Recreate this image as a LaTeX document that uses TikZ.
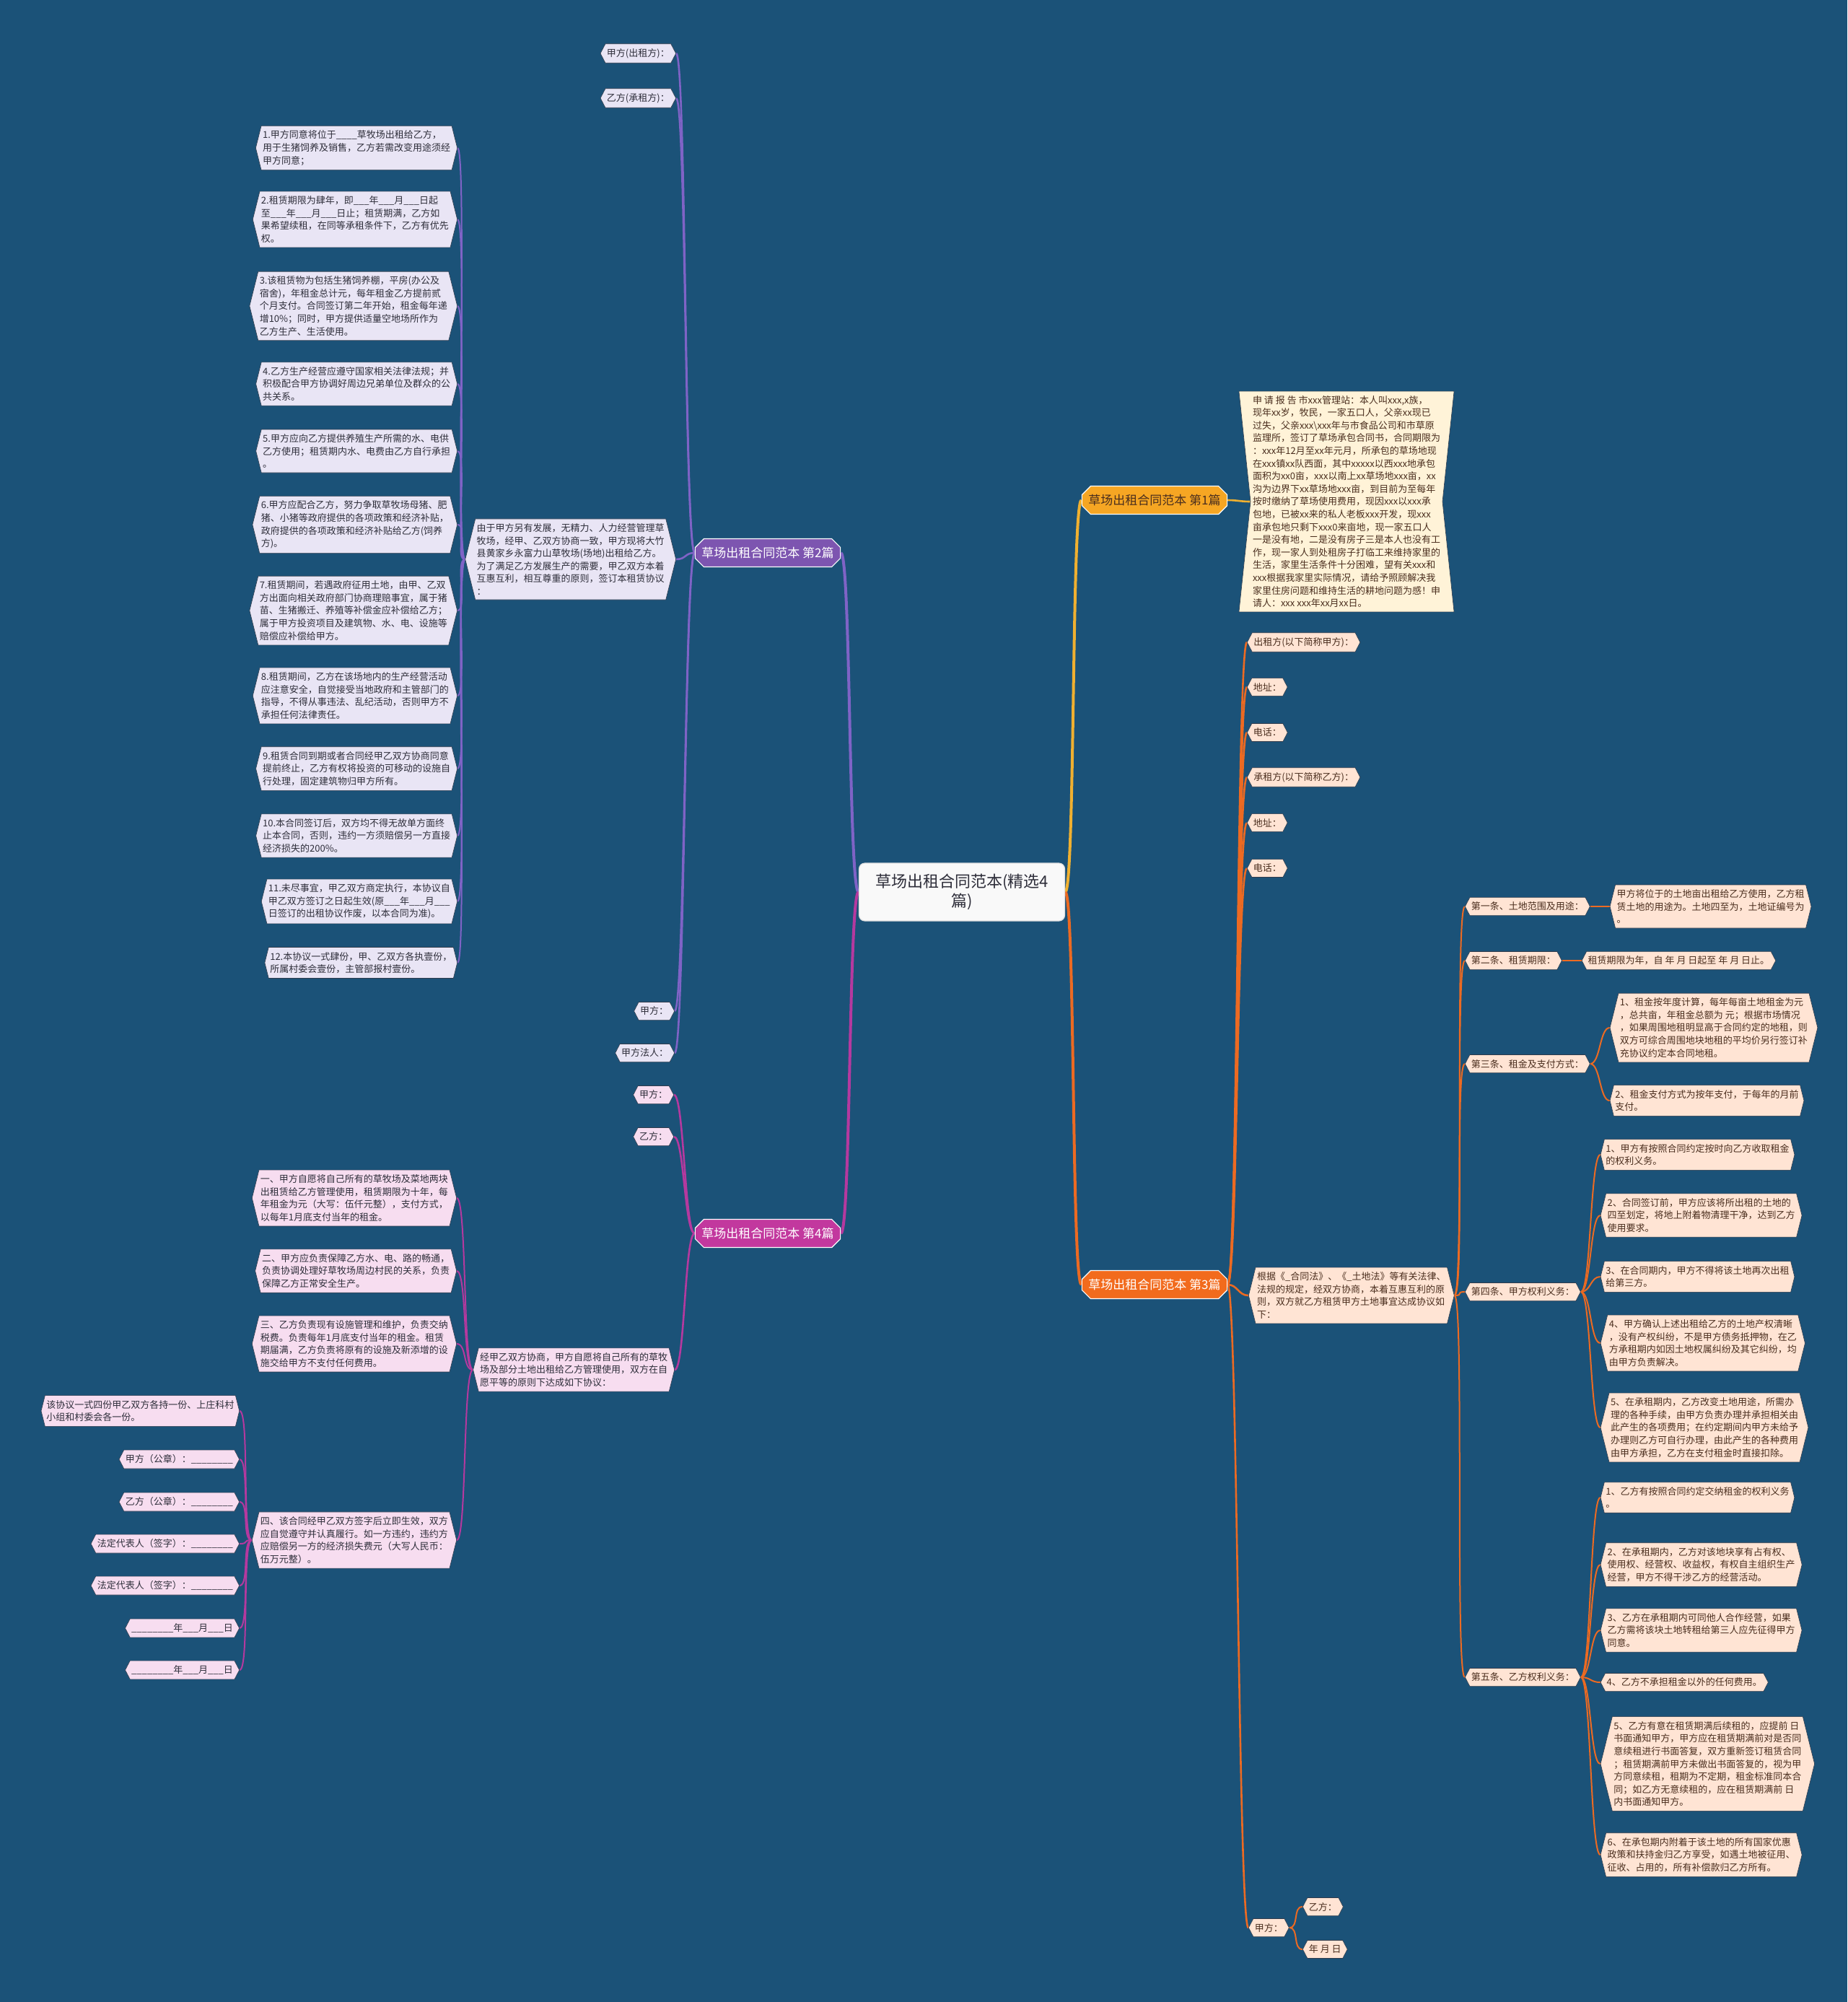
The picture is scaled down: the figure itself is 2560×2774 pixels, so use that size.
\documentclass[tikz,border=0pt]{standalone}
\usepackage{fontspec}
\setmainfont{Noto Sans CJK SC}
\usetikzlibrary{shapes.symbols,shapes.misc,backgrounds,calc}
\definecolor{bg}{HTML}{1B5278}
\definecolor{lavfill}{HTML}{E9E5F5}
\definecolor{pinkfill}{HTML}{F7DDF0}
\definecolor{peachfill}{HTML}{FFE4D4}
\definecolor{creamfill}{HTML}{FFF3D8}
\definecolor{cgold}{HTML}{F0B030}
\definecolor{bgold}{HTML}{F6A623}
\definecolor{corange}{HTML}{EC6A22}
\definecolor{borange}{HTML}{F26B1D}
\definecolor{cpurple}{HTML}{7F63C6}
\definecolor{bpurple}{HTML}{7D55B0}
\definecolor{cmag}{HTML}{B5399F}
\definecolor{bmag}{HTML}{C2389E}
\definecolor{leaftext}{HTML}{2E2E3A}
\definecolor{browntext}{HTML}{4A2E1E}
\definecolor{edgeline}{HTML}{2F3B4C}
\newcommand\fs{\fontsize{13}{17.6}\selectfont}
\newcommand\Rlink[3]{\draw[#1] (#2.east) .. controls +(14,0) and +(-14,0) .. (#3.west);}
\newcommand\Llink[3]{\draw[#1] (#2.west) .. controls +(-14,0) and +(14,0) .. (#3.east);}
\begin{document}
\begin{tikzpicture}[x=1pt,y=-1pt,
  leafbase/.style={shape=signal, signal to=east and west, signal pointer angle=152, inner xsep=2pt, inner ysep=6.5pt, align=left, font=\fs, line width=0.6pt, draw=edgeline},
  tag/.style={signal pointer angle=125},
  pleaf/.style={leafbase, fill=lavfill, text=leaftext},
  mleaf/.style={leafbase, fill=pinkfill, text=leaftext},
  oleaf/.style={leafbase, fill=peachfill, text=browntext},
  cblock/.style={shape=signal, signal to=nowhere, signal from=west and east, signal pointer angle=168, fill=creamfill, draw=edgeline, line width=0.6pt, align=left, font=\fs, text=browntext, inner xsep=3pt, inner ysep=6pt},
  branch/.style={chamfered rectangle, chamfered rectangle xsep=6pt, chamfered rectangle ysep=6pt, minimum width=200pt, minimum height=39pt, font=\fontsize{17}{20}\selectfont, draw=white, line width=1.2pt, inner sep=3pt},
  centernode/.style={rectangle, rounded corners=8pt, fill=white!95!gray, draw=white!75!gray, line width=1.2pt, font=\fontsize{22}{27}\selectfont, text=leaftext, align=center, minimum width=285pt, minimum height=80pt},
  lmain/.style={line width=4pt},
  lone/.style={line width=2.6pt},
  ltwo/.style={line width=2pt}
]
\useasboundingbox (0,0) rectangle (2560,2774);

% ---------- central and branches ----------
\node[centernode] (c) at (1333,1236) {草场出租合同范本(精选4\\篇)};
\node[branch, fill=bgold, text=browntext] (b1) at (1600,693) {草场出租合同范本 第1篇};
\node[branch, fill=bpurple, text=white] (b2) at (1064,766) {草场出租合同范本 第2篇};
\node[branch, fill=borange, text=white] (b3) at (1600,1780) {草场出租合同范本 第3篇};
\node[branch, fill=bmag, text=white] (b4) at (1064,1709) {草场出租合同范本 第4篇};

% ---------- 第1篇 ----------
\node[cblock] (t1) at (1866,695) {申 请 报 告 市xxx管理站：本人叫xxx,x族，\\
现年xx岁，牧民，一家五口人，父亲xx现已\\
过失，父亲xxx\textbackslash{}xxx年与市食品公司和市草原\\
监理所，签订了草场承包合同书，合同期限为\\
：xxx年12月至xx年元月，所承包的草场地现\\
在xxx镇xx队西面，其中xxxxx以西xxx地承包\\
面积为xx0亩，xxx以南上xx草场地xxx亩，xx\\
沟为边界下xx草场地xxx亩，到目前为至每年\\
按时缴纳了草场使用费用，现因xxx以xxx承\\
包地，已被xx来的私人老板xxx开发，现xxx\\
亩承包地只剩下xxx0来亩地，现一家五口人\\
一是没有地，二是没有房子三是本人也没有工\\
作，现一家人到处租房子打临工来维持家里的\\
生活，家里生活条件十分困难，望有关xxx和\\
xxx根据我家里实际情况，请给予照顾解决我\\
家里住房问题和维持生活的耕地问题为感！申\\
请人：xxx xxx年xx月xx日。};

% ---------- 第3篇 ----------
\node[oleaf,tag,anchor=west] (r1) at (1728,890) {出租方(以下简称甲方)：};
\node[oleaf,tag,anchor=west] (r2) at (1728,952) {地址：};
\node[oleaf,tag,anchor=west] (r3) at (1728,1015) {电话：};
\node[oleaf,tag,anchor=west] (r4) at (1728,1077) {承租方(以下简称乙方)：};
\node[oleaf,tag,anchor=west] (r5) at (1728,1140) {地址：};
\node[oleaf,tag,anchor=west] (r6) at (1728,1203) {电话：};
\node[oleaf,anchor=west] (gj) at (1730,1795) {根据《\_合同法》、《\_土地法》等有关法律、\\
法规的规定，经双方协商，本着互惠互利的原\\
则，双方就乙方租赁甲方土地事宜达成协议如\\
下：};
\node[oleaf,tag,anchor=west] (jf3) at (1730,2671) {甲方：};
\node[oleaf,tag,anchor=west] (yf3) at (1805,2642) {乙方：};
\node[oleaf,tag,anchor=west] (ny3) at (1805,2701) {年 月 日};

\node[oleaf,tag,anchor=west] (a1) at (2030,1256) {第一条、土地范围及用途：};
\node[oleaf,tag,anchor=west] (a2) at (2030,1331) {第二条、租赁期限：};
\node[oleaf,tag,anchor=west] (a3) at (2030,1474) {第三条、租金及支付方式：};
\node[oleaf,tag,anchor=west] (a4) at (2030,1790) {第四条、甲方权利义务：};
\node[oleaf,tag,anchor=west] (a5) at (2030,2324) {第五条、乙方权利义务：};

\node[oleaf,anchor=west] (a11) at ($(a1.east)+(27,0)$) {甲方将位于的土地亩出租给乙方使用，乙方租\\
赁土地的用途为。土地四至为，土地证编号为\\
。};
\node[oleaf,tag,anchor=west] (a21) at ($(a2.east)+(27,0)$) {租赁期限为年，自 年 月 日起至 年 月 日止。};
\node[oleaf,anchor=west] (a31) at ($(a3.east)+(27,-50)$) {1、租金按年度计算，每年每亩土地租金为元\\
，总共亩，年租金总额为 元；根据市场情况\\
，如果周围地租明显高于合同约定的地租，则\\
双方可综合周围地块地租的平均价另行签订补\\
充协议约定本合同地租。};
\node[oleaf,anchor=west] (a32) at ($(a3.east)+(27,51)$) {2、租金支付方式为按年支付，于每年的月前\\
支付。};

\node[oleaf,anchor=west] (a41) at ($(a4.east)+(27,-190)$) {1、甲方有按照合同约定按时向乙方收取租金\\
的权利义务。};
\node[oleaf,anchor=west] (a42) at ($(a4.east)+(27,-106)$) {2、合同签订前，甲方应该将所出租的土地的\\
四至划定，将地上附着物清理干净，达到乙方\\
使用要求。};
\node[oleaf,anchor=west] (a43) at ($(a4.east)+(27,-21)$) {3、在合同期内，甲方不得将该土地再次出租\\
给第三方。};
\node[oleaf,anchor=west] (a44) at ($(a4.east)+(27,71)$) {4、甲方确认上述出租给乙方的土地产权清晰\\
，没有产权纠纷，不是甲方债务抵押物，在乙\\
方承租期内如因土地权属纠纷及其它纠纷，均\\
由甲方负责解决。};
\node[oleaf,anchor=west] (a45) at ($(a4.east)+(27,188)$) {5、在承租期内，乙方改变土地用途，所需办\\
理的各种手续，由甲方负责办理并承担相关由\\
此产生的各项费用；在约定期间内甲方未给予\\
办理则乙方可自行办理，由此产生的各种费用\\
由甲方承担，乙方在支付租金时直接扣除。};

\node[oleaf,anchor=west] (a51) at ($(a5.east)+(27,-249)$) {1、乙方有按照合同约定交纳租金的权利义务\\
。};
\node[oleaf,anchor=west] (a52) at ($(a5.east)+(27,-156)$) {2、在承租期内，乙方对该地块享有占有权、\\
使用权、经营权、收益权，有权自主组织生产\\
经营，甲方不得干涉乙方的经营活动。};
\node[oleaf,anchor=west] (a53) at ($(a5.east)+(27,-65)$) {3、乙方在承租期内可同他人合作经营，如果\\
乙方需将该块土地转租给第三人应先征得甲方\\
同意。};
\node[oleaf,tag,anchor=west] (a54) at ($(a5.east)+(27,7)$) {4、乙方不承担租金以外的任何费用。};
\node[oleaf,anchor=west] (a55) at ($(a5.east)+(27,120)$) {5、乙方有意在租赁期满后续租的，应提前 日\\
书面通知甲方，甲方应在租赁期满前对是否同\\
意续租进行书面答复，双方重新签订租赁合同\\
；租赁期满前甲方未做出书面答复的，视为甲\\
方同意续租，租期为不定期，租金标准同本合\\
同；如乙方无意续租的，应在租赁期满前 日\\
内书面通知甲方。};
\node[oleaf,anchor=west] (a56) at ($(a5.east)+(27,246)$) {6、在承包期内附着于该土地的所有国家优惠\\
政策和扶持金归乙方享受，如遇土地被征用、\\
征收、占用的，所有补偿款归乙方所有。};

% ---------- 第2篇 ----------
\node[pleaf,tag,anchor=east] (p1) at (937,74) {甲方(出租方)：};
\node[pleaf,tag,anchor=east] (p2) at (937,136) {乙方(承租方)：};
\node[pleaf,anchor=east] (yb) at (937,775) {由于甲方另有发展，无精力、人力经营管理草\\
牧场，经甲、乙双方协商一致，甲方现将大竹\\
县黄家乡永富力山草牧场(场地)出租给乙方。\\
为了满足乙方发展生产的需要，甲乙双方本着\\
互惠互利，相互尊重的原则，签订本租赁协议\\
：};
\node[pleaf,tag,anchor=east] (p3) at (935,1401) {甲方：};
\node[pleaf,tag,anchor=east] (p4) at (935,1459) {甲方法人：};

\node[pleaf,anchor=east] (L1) at (634,205) {1.甲方同意将位于\_\_\_\_草牧场出租给乙方，\\
用于生猪饲养及销售，乙方若需改变用途须经\\
甲方同意；};
\node[pleaf,anchor=east] (L2) at (634,304) {2.租赁期限为肆年，即\_\_\_年\_\_\_月\_\_\_日起\\
至\_\_\_年\_\_\_月\_\_\_日止；租赁期满，乙方如\\
果希望续租，在同等承租条件下，乙方有优先\\
权。};
\node[pleaf,anchor=east] (L3) at (634,424) {3.该租赁物为包括生猪饲养棚，平房(办公及\\
宿舍)，年租金总计元，每年租金乙方提前贰\\
个月支付。合同签订第二年开始，租金每年递\\
增10\%；同时，甲方提供适量空地场所作为\\
乙方生产、生活使用。};
\node[pleaf,anchor=east] (L4) at (634,532) {4.乙方生产经营应遵守国家相关法律法规；并\\
积极配合甲方协调好周边兄弟单位及群众的公\\
共关系。};
\node[pleaf,anchor=east] (L5) at (634,625) {5.甲方应向乙方提供养殖生产所需的水、电供\\
乙方使用；租赁期内水、电费由乙方自行承担\\
。};
\node[pleaf,anchor=east] (L6) at (634,727) {6.甲方应配合乙方，努力争取草牧场母猪、肥\\
猪、小猪等政府提供的各项政策和经济补贴，\\
政府提供的各项政策和经济补贴给乙方(饲养\\
方)。};
\node[pleaf,anchor=east] (L7) at (634,846) {7.租赁期间，若遇政府征用土地，由甲、乙双\\
方出面向相关政府部门协商理赔事宜，属于猪\\
苗、生猪搬迁、养殖等补偿金应补偿给乙方；\\
属于甲方投资项目及建筑物、水、电、设施等\\
赔偿应补偿给甲方。};
\node[pleaf,anchor=east] (L8) at (634,964) {8.租赁期间，乙方在该场地内的生产经营活动\\
应注意安全，自觉接受当地政府和主管部门的\\
指导，不得从事违法、乱纪活动，否则甲方不\\
承担任何法律责任。};
\node[pleaf,anchor=east] (L9) at (634,1065) {9.租赁合同到期或者合同经甲乙双方协商同意\\
提前终止，乙方有权将投资的可移动的设施自\\
行处理，固定建筑物归甲方所有。};
\node[pleaf,anchor=east] (L10) at (634,1158) {10.本合同签订后，双方均不得无故单方面终\\
止本合同，否则，违约一方须赔偿另一方直接\\
经济损失的200\%。};
\node[pleaf,anchor=east] (L11) at (634,1249) {11.未尽事宜，甲乙双方商定执行，本协议自\\
甲乙双方签订之日起生效(原\_\_\_年\_\_\_月\_\_\_\\
日签订的出租协议作废，以本合同为准)。};
\node[pleaf,anchor=east] (L12) at (634,1334) {12.本协议一式肆份，甲、乙双方各执壹份，\\
所属村委会壹份，主管部报村壹份。};

% ---------- 第4篇 ----------
\node[mleaf,tag,anchor=east] (m1) at (934,1517) {甲方：};
\node[mleaf,tag,anchor=east] (m2) at (934,1575) {乙方：};
\node[mleaf,anchor=east] (jb) at (935,1898) {经甲乙双方协商，甲方自愿将自己所有的草牧\\
场及部分土地出租给乙方管理使用，双方在自\\
愿平等的原则下达成如下协议：};
\node[mleaf,anchor=east] (s1) at (633,1660) {一、甲方自愿将自己所有的草牧场及菜地两块\\
出租赁给乙方管理使用，租赁期限为十年，每\\
年租金为元（大写：伍仟元整），支付方式，\\
以每年1月底支付当年的租金。};
\node[mleaf,anchor=east] (s2) at (633,1761) {二、甲方应负责保障乙方水、电、路的畅通，\\
负责协调处理好草牧场周边村民的关系，负责\\
保障乙方正常安全生产。};
\node[mleaf,anchor=east] (s3) at (633,1862) {三、乙方负责现有设施管理和维护，负责交纳\\
税费。负责每年1月底支付当年的租金。租赁\\
期届满，乙方负责将原有的设施及新添增的设\\
施交给甲方不支付任何费用。};
\node[mleaf,anchor=east] (s4) at (633,2134) {四、该合同经甲乙双方签字后立即生效，双方\\
应自觉遵守并认真履行。如一方违约，违约方\\
应赔偿另一方的经济损失费元（大写人民币：\\
伍万元整）。};
\node[mleaf,anchor=east] (z1) at (332,1955) {该协议一式四份甲乙双方各持一份、上庄科村\\
小组和村委会各一份。};
\node[mleaf,tag,anchor=east] (z2) at (332,2022) {甲方（公章）：\_\_\_\_\_\_\_\_};
\node[mleaf,tag,anchor=east] (z3) at (332,2081) {乙方（公章）：\_\_\_\_\_\_\_\_};
\node[mleaf,tag,anchor=east] (z4) at (332,2139) {法定代表人（签字）：\_\_\_\_\_\_\_\_};
\node[mleaf,tag,anchor=east] (z5) at (332,2197) {法定代表人（签字）：\_\_\_\_\_\_\_\_};
\node[mleaf,tag,anchor=east] (z6) at (332,2256) {\_\_\_\_\_\_\_\_年\_\_\_月\_\_\_日};
\node[mleaf,tag,anchor=east] (z7) at (332,2314) {\_\_\_\_\_\_\_\_年\_\_\_月\_\_\_日};

% ---------- connectors ----------
\begin{pgfonlayer}{background}
\fill[bg] (0,0) rectangle (2560,2774);
\Rlink{lmain,cgold}{c}{b1}
\Rlink{lmain,corange}{c}{b3}
\Llink{lmain,cpurple}{c}{b2}
\Llink{lmain,cmag}{c}{b4}
\Rlink{lone,cgold}{b1}{t1}
\foreach \n in {r1,r2,r3,r4,r5,r6,gj,jf3} {\Rlink{lone,corange}{b3}{\n}}
\foreach \n in {yf3,ny3} {\Rlink{ltwo,corange}{jf3}{\n}}
\foreach \n in {a1,a2,a3,a4,a5} {\Rlink{ltwo,corange}{gj}{\n}}
\Rlink{ltwo,corange}{a1}{a11}
\Rlink{ltwo,corange}{a2}{a21}
\foreach \n in {a31,a32} {\Rlink{ltwo,corange}{a3}{\n}}
\foreach \n in {a41,a42,a43,a44,a45} {\Rlink{ltwo,corange}{a4}{\n}}
\foreach \n in {a51,a52,a53,a54,a55,a56} {\Rlink{ltwo,corange}{a5}{\n}}
\foreach \n in {p1,p2,yb,p3,p4} {\Llink{lone,cpurple}{b2}{\n}}
\foreach \n in {L1,L2,L3,L4,L5,L6,L7,L8,L9,L10,L11,L12} {\Llink{ltwo,cpurple}{yb}{\n}}
\foreach \n in {m1,m2,jb} {\Llink{lone,cmag}{b4}{\n}}
\foreach \n in {s1,s2,s3,s4} {\Llink{ltwo,cmag}{jb}{\n}}
\foreach \n in {z1,z2,z3,z4,z5,z6,z7} {\Llink{ltwo,cmag}{s4}{\n}}
\end{pgfonlayer}
\end{tikzpicture}
\end{document}
